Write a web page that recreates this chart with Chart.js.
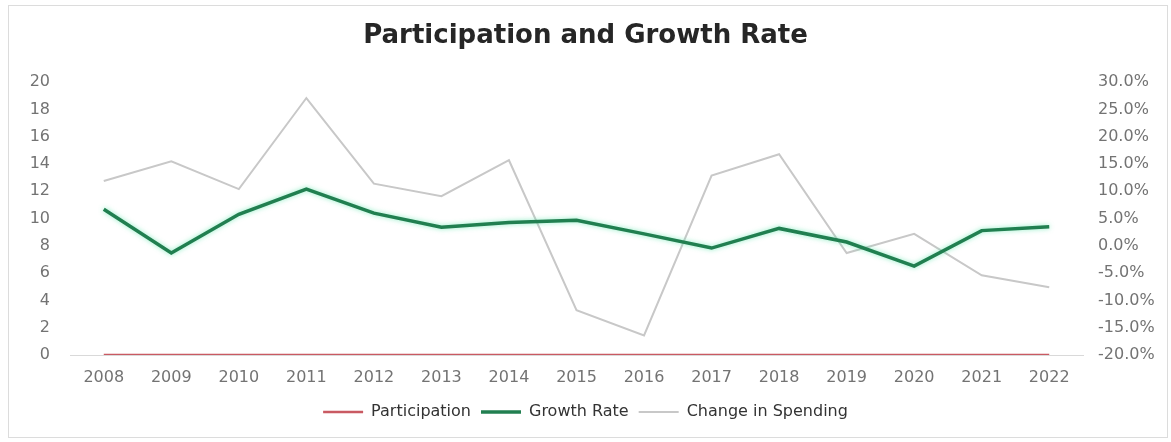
<!DOCTYPE html>
<html>
<head>
<meta charset="utf-8">
<script src="https://cdn.jsdelivr.net/npm/chart.js@4/dist/chart.umd.min.js"></script>
<style>
    html, body { margin: 0; padding: 0; background: #fff; }
    #wrap { position: relative; width: 1171px; height: 442px; }
    #marco {
        position: absolute; left: 8px; top: 5px; width: 1158px; height: 431px;
        border: 1px solid #dcdcdc; pointer-events: none;
    }
</style>
</head>
<body>
<div id="wrap">
    <canvas id="participacionChart" width="1171" height="442"></canvas>
    <div id="marco"></div>
</div>
<script>
const anios = ['2008', '2009', '2010', '2011', '2012', '2013', '2014', '2015',
    '2016', '2017', '2018', '2019', '2020', '2021', '2022'];
const participacion = [0, 0, 0, 0, 0, 0, 0, 0, 0, 0, 0, 0, 0, 0, 0];
// tasas en porcentaje (eje derecho)
const crecimiento = [6.7, -1.3, 5.8, 10.4, 6.0, 3.4, 4.3, 4.7, 2.2, -0.4, 3.2, 0.7, -3.7, 2.8, 3.5];
const cambioGasto = [11.9, 15.5, 10.4, 27.1, 11.4, 9.1, 15.7, -11.8, -16.4, 12.9, 16.8, -1.3, 2.2, -5.4, -7.6];

const fuenteEjes = { family: 'DejaVu Sans', size: 16 };
const grisTexto = '#737373';

// brillo suave alrededor de la linea verde
const brilloVerde = {
    id: 'brilloVerde',
    beforeDatasetDraw(chart, args) {
        if (args.index === 1) {
            chart.ctx.save();
            chart.ctx.shadowColor = 'rgba(90, 230, 170, 0.7)';
            chart.ctx.shadowBlur = 5;
        }
    },
    afterDatasetDraw(chart, args) {
        if (args.index === 1) chart.ctx.restore();
    }
};

function dibujarGrafico() {
    const ctx = document.getElementById('participacionChart').getContext('2d');
    new Chart(ctx, {
        type: 'line',
        data: {
            labels: anios,
            datasets: [{
                label: 'Participation',
                data: participacion,
                yAxisID: 'y',
                borderColor: '#c95a62',
                borderWidth: 2.5,
                pointRadius: 0,
                order: 1
            }, {
                label: 'Growth Rate',
                data: crecimiento,
                yAxisID: 'y1',
                borderColor: '#217f50',
                borderWidth: 3.5,
                pointRadius: 0,
                order: 0
            }, {
                label: 'Change in Spending',
                data: cambioGasto,
                yAxisID: 'y1',
                borderColor: '#c8c8c8',
                borderWidth: 2,
                pointRadius: 0,
                order: 2
            }]
        },
        options: {
            responsive: false,
            animation: false,
            layout: { padding: { top: 0, left: 0, right: 0, bottom: 12 } },
            plugins: {
                title: {
                    display: true,
                    text: 'Participation and Growth Rate',
                    color: '#262626',
                    font: { family: 'DejaVu Sans', size: 26, weight: 'bold' },
                    padding: { top: 21, bottom: 30 }
                },
                legend: {
                    position: 'bottom',
                    labels: {
                        color: '#333333',
                        font: { family: 'DejaVu Sans', size: 16 },
                        usePointStyle: true,
                        pointStyle: 'line',
                        pointStyleWidth: 40,
                        padding: 10,
                        sort: (a, b) => a.datasetIndex - b.datasetIndex
                    }
                },
                tooltip: { enabled: false }
            },
            scales: {
                x: {
                    offset: true,
                    grid: { display: false, drawTicks: false },
                    border: { display: true, color: '#d9d9d9', width: 1 },
                    ticks: { color: grisTexto, font: fuenteEjes, padding: 13, maxRotation: 0 },
                    afterFit: s => { s.height = 39; }
                },
                y: {
                    position: 'left',
                    min: 0,
                    max: 20,
                    grid: { display: false, drawTicks: false },
                    border: { display: false },
                    ticks: { stepSize: 2, color: grisTexto, font: fuenteEjes, padding: 20 },
                    afterFit: s => { s.width = 70; }
                },
                y1: {
                    position: 'right',
                    min: -20,
                    max: 30,
                    grid: { display: false, drawTicks: false },
                    border: { display: false },
                    ticks: {
                        stepSize: 5,
                        color: grisTexto,
                        font: fuenteEjes,
                        padding: 15,
                        callback: v => v.toFixed(1) + '%'
                    },
                    afterFit: s => { s.width = 88; }
                }
            }
        },
        plugins: [brilloVerde]
    });
}

dibujarGrafico();
</script>
</body>
</html>
